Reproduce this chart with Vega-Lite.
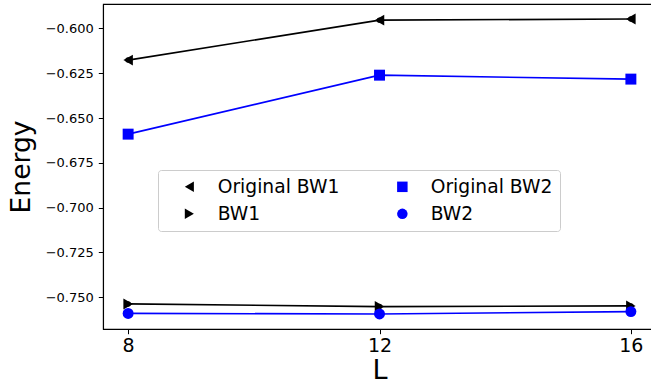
{
  "$schema": "https://vega.github.io/schema/vega-lite/v6.json",
  "width": 550,
  "height": 325,
  "autosize": "none",
  "padding": {"left": 103, "top": 4, "right": -2, "bottom": 62},
  "background": "white",
  "config": {
    "font": "DejaVu Sans",
    "view": {"stroke": "black", "strokeWidth": 1.1},
    "axis": {"grid": false, "domainColor": "black", "tickColor": "black", "labelColor": "black", "titleColor": "black", "titleFontWeight": "normal", "labelFont": "DejaVu Sans", "titleFont": "DejaVu Sans"}
  },
  "data": {"values": [
    {"L": 8, "series": "Original BW1", "energy": -0.6177},
    {"L": 12, "series": "Original BW1", "energy": -0.5954},
    {"L": 16, "series": "Original BW1", "energy": -0.5948},
    {"L": 8, "series": "Original BW2", "energy": -0.6590},
    {"L": 12, "series": "Original BW2", "energy": -0.6261},
    {"L": 16, "series": "Original BW2", "energy": -0.6283},
    {"L": 8, "series": "BW1", "energy": -0.7537},
    {"L": 12, "series": "BW1", "energy": -0.7552},
    {"L": 16, "series": "BW1", "energy": -0.7548},
    {"L": 8, "series": "BW2", "energy": -0.7590},
    {"L": 12, "series": "BW2", "energy": -0.7593},
    {"L": 16, "series": "BW2", "energy": -0.7580}
  ]},
  "encoding": {
    "x": {"field": "L", "type": "quantitative", "scale": {"domain": [7.6, 16.352], "nice": false, "zero": false},
      "axis": {"values": [8, 12, 16], "title": "L", "titleFontSize": 27, "labelFontSize": 19, "tickSize": 4.7, "labelPadding": 3, "titlePadding": 2, "titleX": 276.5, "domainWidth": 1.1}},
    "y": {"field": "energy", "type": "quantitative", "scale": {"domain": [-0.7677, -0.5864], "nice": false, "zero": false},
      "axis": {"values": [-0.6, -0.625, -0.65, -0.675, -0.7, -0.725, -0.75], "format": ".3f", "title": "Energy", "titleFontSize": 26.5, "labelFontSize": 13, "tickSize": 4.7, "labelPadding": 5, "titlePadding": 10, "domainWidth": 1.1}},
    "color": {"field": "series", "type": "nominal",
      "scale": {"domain": ["Original BW1", "Original BW2", "BW1", "BW2"], "range": ["black", "#0000ff", "black", "#0000ff"]},
      "legend": {"orient": "none", "legendX": 55, "legendY": 166, "columns": 2, "direction": "horizontal", "title": null, "labelFontSize": 18.7, "labelFont": "DejaVu Sans", "labelColor": "black", "symbolSize": 110, "symbolOffset": 15, "labelOffset": 19, "columnPadding": 38, "rowPadding": 7.5, "padding": 7, "strokeColor": "#cccccc", "fillColor": "rgba(255,255,255,0.8)", "cornerRadius": 3, "symbolStrokeWidth": 0, "symbolOpacity": 1}},
    "shape": {"field": "series", "type": "nominal",
      "scale": {"domain": ["Original BW1", "Original BW2", "BW1", "BW2"], "range": ["triangle-left", "square", "triangle-right", "circle"]}}
  },
  "layer": [
    {"mark": {"type": "line", "strokeWidth": 1.6}, "encoding": {"shape": {"value": null}, "detail": {"field": "series"}}},
    {"mark": {"type": "point", "filled": true, "size": 120, "opacity": 1}}
  ]
}
